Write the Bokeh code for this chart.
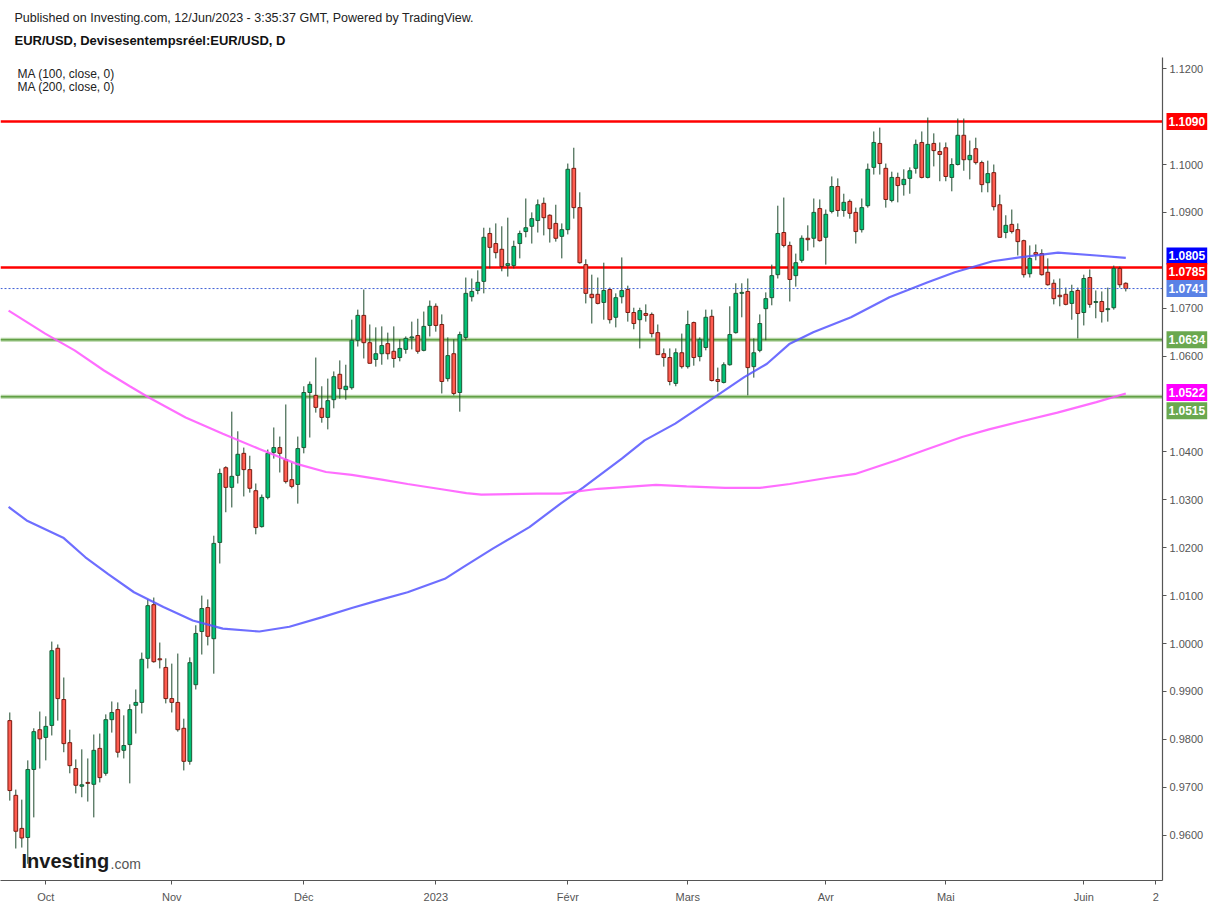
from bokeh.plotting import figure
from bokeh.models import Range1d, FixedTicker, Label, Span, ColumnDataSource, NumeralTickFormatter
from bokeh.embed import file_html
from bokeh.resources import INLINE

# ---------------- data ----------------
opens = [0.9839,0.9683,0.9614,0.9595,0.9737,0.9820,0.9804,0.9829,0.9990,0.9883,
0.9793,0.9739,0.9702,0.9710,0.9706,0.9781,0.9729,0.9841,0.9862,0.9777,
0.9789,0.9871,0.9877,0.9969,1.0081,0.9968,0.9950,0.9885,0.9877,0.9823,
0.9754,0.9914,1.0025,1.0075,1.0010,1.0211,1.0367,1.0326,1.0351,1.0397,
1.0363,1.0319,1.0244,1.0305,1.0399,1.0409,1.0384,1.0342,1.0332,1.0409,
1.0524,1.0518,1.0491,1.0472,1.0509,1.0562,1.0530,1.0534,1.0633,1.0685,
1.0628,1.0593,1.0605,1.0626,1.0610,1.0597,1.0614,1.0638,1.0643,1.0612,
1.0664,1.0704,1.0666,1.0553,1.0605,1.0524,1.0639,1.0724,1.0737,1.0756,
1.0856,1.0835,1.0823,1.0789,1.0789,1.0835,1.0860,1.0871,1.0883,1.0919,
1.0894,1.0877,1.0850,1.0864,1.0992,1.0910,1.0791,1.0729,1.0729,1.0712,
1.0739,1.0681,1.0724,1.0739,1.0691,1.0676,1.0689,1.0687,1.0649,1.0605,
1.0597,1.0543,1.0607,1.0578,1.0670,1.0599,1.0618,1.0683,1.0551,1.0545,
1.0582,1.0649,1.0731,1.0735,1.0578,1.0612,1.0699,1.0722,1.0770,1.0858,
1.0831,1.0768,1.0800,1.0846,1.0846,1.0908,1.0848,1.0902,1.0954,1.0904,
1.0923,1.0900,1.0864,1.0914,1.0994,1.1044,1.0992,1.0925,1.0973,1.0958,
1.0971,1.0992,1.1046,1.0973,1.1044,1.1027,1.1035,1.0973,1.1000,1.1061,
1.1010,1.1033,1.1004,1.0962,1.0983,1.0916,1.0858,1.0875,1.0864,1.0841,
1.0772,1.0816,1.0814,1.0775,1.0752,1.0727,1.0729,1.0710,1.0737,1.0691,
1.0764,1.0712,1.0714,1.0697,1.0701,1.0783,1.0752]

highs = [0.9856,0.9695,0.9674,0.9756,0.9823,0.9858,0.9848,1.0004,0.9998,0.9929,
0.9820,0.9758,0.9779,0.9760,0.9810,0.9812,0.9852,0.9879,0.9877,0.9850,
0.9873,0.9904,0.9981,1.0092,1.0096,1.0002,0.9969,0.9958,0.9979,0.9843,
0.9971,1.0038,1.0100,1.0092,1.0225,1.0365,1.0370,1.0484,1.0443,1.0409,
1.0392,1.0334,1.0311,1.0405,1.0451,1.0432,1.0499,1.0378,1.0432,1.0537,
1.0547,1.0597,1.0537,1.0553,1.0568,1.0591,1.0582,1.0676,1.0697,1.0739,
1.0666,1.0660,1.0662,1.0649,1.0662,1.0635,1.0641,1.0672,1.0678,1.0693,
1.0716,1.0710,1.0687,1.0639,1.0635,1.0651,1.0764,1.0762,1.0779,1.0868,
1.0868,1.0877,1.0871,1.0889,1.0841,1.0862,1.0929,1.0900,1.0927,1.0931,
1.0896,1.0916,1.0877,1.1002,1.1035,1.0942,1.0802,1.0770,1.0764,1.0795,
1.0743,1.0731,1.0806,1.0747,1.0701,1.0701,1.0708,1.0691,1.0666,1.0616,
1.0616,1.0616,1.0647,1.0695,1.0672,1.0639,1.0697,1.0697,1.0576,1.0587,
1.0704,1.0752,1.0752,1.0762,1.0637,1.0687,1.0733,1.0791,1.0914,1.0931,
1.0839,1.0814,1.0852,1.0873,1.0929,1.0927,1.0906,1.0975,1.0971,1.0939,
1.0927,1.0910,1.0929,1.1002,1.1069,1.1077,1.1002,1.0985,1.0983,1.0990,
1.0994,1.1052,1.1069,1.1098,1.1065,1.1046,1.1046,1.1013,1.1096,1.1096,
1.1050,1.1056,1.1008,1.1008,1.1000,1.0937,1.0894,1.0906,1.0877,1.0843,
1.0831,1.0833,1.0823,1.0804,1.0760,1.0762,1.0743,1.0749,1.0743,1.0770,
1.0781,1.0737,1.0735,1.0743,1.0789,1.0787,1.0754]

lows = [0.9672,0.9572,0.9574,0.9540,0.9637,0.9739,0.9756,0.9808,0.9839,0.9773,
0.9729,0.9687,0.9679,0.9670,0.9637,0.9710,0.9724,0.9814,0.9762,0.9760,
0.9708,0.9812,0.9854,0.9948,0.9960,0.9948,0.9875,0.9856,0.9816,0.9735,
0.9747,0.9904,0.9977,0.9996,0.9937,1.0167,1.0274,1.0284,1.0334,1.0307,
1.0315,1.0228,1.0242,1.0301,1.0386,1.0357,1.0334,1.0324,1.0292,1.0397,
1.0430,1.0482,1.0461,1.0447,1.0491,1.0511,1.0509,1.0530,1.0620,1.0595,
1.0585,1.0578,1.0582,1.0593,1.0576,1.0589,1.0605,1.0614,1.0605,1.0610,
1.0641,1.0651,1.0522,1.0547,1.0518,1.0484,1.0633,1.0714,1.0729,1.0731,
1.0783,1.0804,1.0777,1.0766,1.0783,1.0804,1.0848,1.0835,1.0858,1.0852,
1.0837,1.0839,1.0804,1.0854,1.0887,1.0793,1.0710,1.0668,1.0708,1.0676,
1.0668,1.0660,1.0710,1.0672,1.0656,1.0616,1.0672,1.0639,1.0603,1.0578,
1.0539,1.0537,1.0574,1.0574,1.0580,1.0589,1.0612,1.0547,1.0526,1.0543,
1.0580,1.0647,1.0681,1.0518,1.0555,1.0608,1.0633,1.0706,1.0762,1.0827,
1.0714,1.0745,1.0795,1.0820,1.0827,1.0839,1.0791,1.0898,1.0891,1.0891,
1.0887,1.0835,1.0858,1.0910,1.0979,1.0979,1.0910,1.0921,1.0921,1.0935,
1.0939,1.0981,1.0971,1.0971,1.0996,1.0965,1.0965,1.0944,1.0998,1.0987,
1.0969,1.1000,1.0942,1.0942,1.0904,1.0848,1.0846,1.0856,1.0810,1.0764,
1.0764,1.0800,1.0768,1.0747,1.0708,1.0704,1.0706,1.0676,1.0637,1.0664,
1.0701,1.0679,1.0670,1.0672,1.0697,1.0743,1.0735]

closes = [0.9693,0.9608,0.9594,0.9737,0.9816,0.9801,0.9827,0.9985,0.9885,0.9791,
0.9745,0.9704,0.9705,0.9708,0.9777,0.9720,0.9841,0.9856,0.9773,0.9787,
0.9862,0.9877,0.9967,1.0079,0.9962,0.9966,0.9885,0.9877,0.9820,0.9754,
0.9960,1.0021,1.0073,1.0015,1.0209,1.0355,1.0326,1.0349,1.0395,1.0363,
1.0324,1.0242,1.0305,1.0397,1.0409,1.0397,1.0338,1.0328,1.0407,1.0524,
1.0541,1.0493,1.0472,1.0507,1.0557,1.0532,1.0537,1.0633,1.0685,1.0628,
1.0585,1.0605,1.0622,1.0605,1.0595,1.0616,1.0637,1.0640,1.0610,1.0662,
1.0704,1.0664,1.0547,1.0601,1.0522,1.0645,1.0731,1.0735,1.0754,1.0848,
1.0827,1.0816,1.0787,1.0793,1.0829,1.0856,1.0868,1.0887,1.0916,1.0889,
1.0866,1.0846,1.0864,1.0990,1.0910,1.0795,1.0731,1.0722,1.0710,1.0737,
1.0676,1.0722,1.0737,1.0691,1.0668,1.0695,1.0685,1.0647,1.0603,1.0597,
1.0547,1.0607,1.0578,1.0666,1.0597,1.0635,1.0681,1.0549,1.0547,1.0582,
1.0645,1.0731,1.0733,1.0576,1.0607,1.0668,1.0720,1.0768,1.0856,1.0831,
1.0760,1.0795,1.0846,1.0843,1.0900,1.0841,1.0896,1.0954,1.0904,1.0921,
1.0898,1.0860,1.0910,1.0990,1.1046,1.1002,1.0927,1.0973,1.0956,1.0969,
1.0987,1.1042,1.0973,1.1042,1.1029,1.1021,1.0975,1.1000,1.1061,1.1010,
1.1019,1.1004,1.0958,1.0981,1.0912,1.0848,1.0873,1.0860,1.0839,1.0770,
1.0804,1.0812,1.0770,1.0749,1.0720,1.0724,1.0708,1.0735,1.0689,1.0762,
1.0708,1.0714,1.0693,1.0699,1.0783,1.0749,1.0741]

# moving averages (bar index, value)
ma100_idx = [-0.2,2.8,8.9,12.6,16.4,20.7,25.6,30.5,35.5,41.6,46.6,52.1,57.0,61.4,66.3,
             72.5,75.5,80.5,86.6,91.8,95.6,102.0,105.8,110.9,116.0,122.4,126.2,130.0,
             133.9,140.2,146.6,153.0,157.5,163.8,168.3,174.7,181.1,186.0]
ma100_val = [1.0285,1.0257,1.0221,1.0180,1.0145,1.0107,1.0076,1.0048,1.0031,1.0025,1.0035,
             1.0055,1.0074,1.0090,1.0107,1.0135,1.0159,1.0198,1.0243,1.0292,1.0326,1.0386,
             1.0424,1.0459,1.0502,1.0556,1.0584,1.0626,1.0650,1.0681,1.0723,1.0754,1.0775,
             1.0798,1.0806,1.0816,1.0810,1.0805]
ma200_idx = [-0.2,5.9,10.8,15.7,20.0,23.1,29.3,35.5,41.6,47.8,52.7,57.0,62.0,66.3,72.5,
             76.1,78.6,87.8,91.8,98.1,107.7,112.8,119.2,125.0,130.0,136.4,140.9,147.9,
             153.0,158.7,163.2,168.3,174.6,181.1,186.0]
ma200_val = [1.0695,1.0647,1.0612,1.0570,1.0537,1.0514,1.0472,1.0438,1.0406,1.0375,1.0358,
             1.0352,1.0342,1.0333,1.0321,1.0314,1.0311,1.0313,1.0313,1.0323,1.0331,1.0328,
             1.0325,1.0325,1.0333,1.0346,1.0354,1.0383,1.0406,1.0431,1.0447,1.0463,1.0482,
             1.0504,1.0522]

month_labels = ["Oct", "Nov", "Déc", "2023", "Févr", "Mars", "Avr", "Mai", "Juin", "2"]
month_index = [6, 27, 49, 71, 93, 113, 136, 156, 179, 191]

red_levels = [1.1090, 1.0785]
green_levels = [1.0634, 1.0515]
last_price = 1.0741
ma100_last = 1.0805
ma200_last = 1.0522
price_ticks = [0.96, 0.97, 0.98, 0.99, 1.00, 1.01, 1.02, 1.03, 1.04, 1.06, 1.07, 1.09, 1.10, 1.12]

header_text = "Published on Investing.com, 12/Jun/2023 - 3:35:37 GMT, Powered by TradingView."
title_text = "EUR/USD, Devisesentempsréel:EUR/USD, D"
legend_texts = ["MA (100, close, 0)", "MA (200, close, 0)"]

# ---------------- layout helpers ----------------
BAR_PX = 6.0
FRAME_W, FRAME_H = 1162, 823
X0 = (0 - 9.3) / BAR_PX
X1 = X0 + FRAME_W / BAR_PX
PX_PER_UNIT = 4790.0
Y1 = 1.1 + (164 - 57) / PX_PER_UNIT
Y0 = Y1 - FRAME_H / PX_PER_UNIT

def px_x(x):
    return (x - 9.3) / BAR_PX

def px_y(y):
    return 1.1 - (y - 164) / PX_PER_UNIT

FONT = "Liberation Sans"
GREEN = "#00c176"
RED = "#ff5c50"
GREEN_EDGE = "#1d5a36"
RED_EDGE = "#7a1c12"
WICK = "#1e4a2e"

n = len(closes)
idx = list(range(n))
up = [c >= o for o, c in zip(opens, closes)]
src = ColumnDataSource(dict(
    x=idx,
    top=[max(o, c) for o, c in zip(opens, closes)],
    bottom=[min(o, c) for o, c in zip(opens, closes)],
    high=highs, low=lows,
    fill=[GREEN if u else RED for u in up],
    edge=[GREEN_EDGE if u else RED_EDGE for u in up],
))

p = figure(frame_width=FRAME_W, frame_height=FRAME_H, output_backend="svg",
           toolbar_location=None, x_range=Range1d(X0, X1), y_range=Range1d(Y0, Y1),
           y_axis_location="right", min_border_left=0, min_border_right=46,
           min_border_top=57, min_border_bottom=22)
p.outline_line_color = None
p.background_fill_color = "white"
p.border_fill_color = "white"
p.xgrid.visible = False
p.ygrid.visible = False

# horizontal levels (under candles)
for lv in green_levels:
    p.add_layout(Span(location=lv, dimension="width", line_color="#b3d4a3", line_width=4, level="underlay"))
    p.add_layout(Span(location=lv, dimension="width", line_color="#62a046", line_width=1.5, level="underlay"))
for lv in red_levels:
    p.add_layout(Span(location=lv, dimension="width", line_color="#ff0000", line_width=2.5, level="underlay"))

# candles
p.segment(x0="x", y0="low", x1="x", y1="high", source=src, line_color=WICK, line_width=1)
p.vbar(x="x", width=0.62, top="top", bottom="bottom", source=src,
       fill_color="fill", line_color="edge", line_width=1)

# moving averages
p.line(ma100_idx, ma100_val, line_color="#5555ff", line_width=2.2, line_alpha=0.85)
p.line(ma200_idx, ma200_val, line_color="#ff55ff", line_width=2.2, line_alpha=0.85)

# last price dotted line
p.add_layout(Span(location=last_price, dimension="width", line_color="#3d5fd6",
                  line_width=1, line_dash="2 2"))

# axes
xa = p.xaxis[0]
xa.ticker = FixedTicker(ticks=month_index)
xa.major_label_overrides = {i: lab for i, lab in zip(month_index, month_labels)}
ya = p.yaxis[0]
ya.ticker = FixedTicker(ticks=price_ticks)
ya.formatter = NumeralTickFormatter(format="0.0000")
for ax in (xa, ya):
    ax.axis_line_color = "#555555"
    ax.axis_line_width = 1.2
    ax.major_tick_line_color = "#555555"
    ax.major_tick_in = 0
    ax.major_tick_out = 4
    ax.minor_tick_line_color = None
    ax.major_label_text_font = FONT
    ax.major_label_text_font_size = "11px"
    ax.major_label_text_color = "#555555"
xa.major_label_standoff = 6
ya.major_label_standoff = 3

# price boxes on the axis (placed in the right panel so they are not clipped)
boxes = [(red_levels[0], "#ff0000", 0), (ma100_last, "#0000ff", 2), (red_levels[1], "#ff0000", -4),
         (last_price, "#5a82e6", 0), (green_levels[0], "#6aa84f", 0), (ma200_last, "#ff00ff", 1),
         (green_levels[1], "#6aa84f", -14)]
for val, col, off in boxes:
    p.add_layout(Label(x=X1, y=val, text=f"{val:.4f}", x_offset=4, y_offset=off,
                       text_font=FONT, text_font_size="12px", text_font_style="bold",
                       text_color="white", text_align="left", text_baseline="middle",
                       background_fill_color=col, padding=(2, 4)), "right")

# header texts (placed above the frame)
p.add_layout(Label(x=px_x(14), y=px_y(17), text=header_text, text_font=FONT,
                   text_font_size="12.5px", text_color="#222222", text_baseline="middle"), "above")
p.add_layout(Label(x=px_x(14), y=px_y(40), text=title_text, text_font=FONT,
                   text_font_size="13px", text_font_style="bold", text_color="#111111",
                   text_baseline="middle"), "above")
for k, t in enumerate(legend_texts):
    p.add_layout(Label(x=px_x(17), y=px_y(73 + 13 * k), text=t, text_font=FONT,
                       text_font_size="12px", text_color="#222222", text_baseline="middle"))

# logo
p.add_layout(Label(x=px_x(21), y=px_y(860), text="Investing", text_font=FONT,
                   text_font_size="20px", text_font_style="bold", text_color="#1a1a1a",
                   text_baseline="middle"))
p.add_layout(Label(x=px_x(110), y=px_y(863), text=".com", text_font=FONT,
                   text_font_size="14px", text_color="#555555", text_baseline="middle"))

open("out.html", "w").write(file_html(p, INLINE))
